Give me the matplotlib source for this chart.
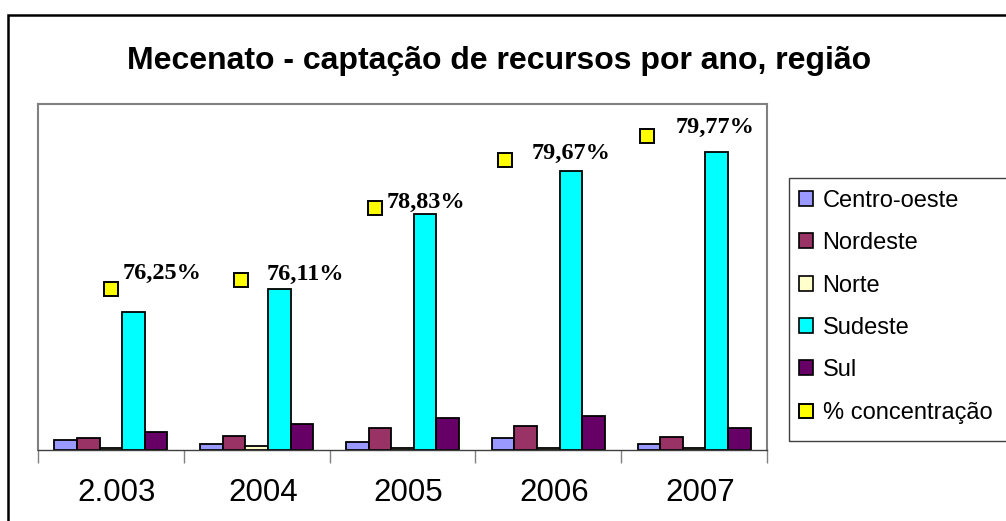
import matplotlib.pyplot as plt
from matplotlib.patches import Patch, Rectangle
from matplotlib.lines import Line2D
import matplotlib.transforms as mtransforms
import numpy as np

plt.rcParams['font.family'] = ['Liberation Sans', 'DejaVu Sans']

# data (heights, arbitrary units)
anos = ['2.003', '2004', '2005', '2006', '2007']
regioes = ['Centro-oeste', 'Nordeste', 'Norte', 'Sudeste', 'Sul']
centro_oeste = [10, 6, 8, 12, 6]
nordeste = [12, 14, 22, 24, 13]
norte = [2, 4, 2, 2, 2]
sudeste = [138, 161, 236, 279, 298]
sul = [18, 26, 32, 34, 22]
series = [centro_oeste, nordeste, norte, sudeste, sul]

concentracao = ['76,25%', '76,11%', '78,83%', '79,67%', '79,77%']
conc_nivel = [161, 170, 242, 290, 314]
conc_x = [0.50, 1.39, 2.31, 3.20, 4.18]

cores = ['#9999FF', '#993366', '#FFFFCC', '#00FFFF', '#660066']
label_offsets = [(12, 16), (26, 6), (12, 6), (27, 7), (28, 9)]

W, H = 1006, 521
fig = plt.figure(figsize=(W / 100, H / 100), dpi=100)

# outer chart border
fig.add_artist(Rectangle((8 / W, -0.1), 1.2, (1 - 15 / H) + 0.1,
                         transform=fig.transFigure, fill=False,
                         edgecolor='black', linewidth=1.8, clip_on=False))

ax = fig.add_axes([38 / W, 1 - 450 / H, (767 - 38) / W, (450 - 104) / H])

bw = 0.155
x = np.arange(len(anos))
for k, (vals, cor) in enumerate(zip(series, cores)):
    ax.bar(x + 0.5 + (k - 2) * bw, vals, width=bw, color=cor,
           edgecolor='black', linewidth=1.3, zorder=2)

ax.plot(conc_x, conc_nivel, 's', ms=10, mfc='#FFFF00', mec='black',
        mew=1.4, ls='none', zorder=3)
for xi, yi, txt, (dx, dy) in zip(conc_x, conc_nivel, concentracao, label_offsets):
    ax.annotate(txt, (xi, yi), xytext=(dx, dy), textcoords='offset pixels',
                ha='left', va='center', fontsize=17.5, fontweight='bold',
                family='Liberation Serif')

ax.set_xlim(0, len(anos))
ax.set_ylim(0, 346)
ax.set_yticks([])
ax.set_xticks(np.arange(len(anos) + 1))
ax.set_xticklabels([])
ax.set_xticks(x + 0.5, minor=True)
ax.set_xticklabels(anos, minor=True, fontsize=22.5)
ax.tick_params(axis='x', which='major', length=9, direction='out',
               color='#808080', width=1)
ax.tick_params(axis='x', which='minor', length=0, pad=20)
for lbl in ax.get_xticklabels(minor=True):
    lbl.set_transform(lbl.get_transform() +
                      mtransforms.ScaledTranslation(6 / 100, 0, fig.dpi_scale_trans))

for s in ['left', 'top', 'right']:
    ax.spines[s].set_color('#808080')
    ax.spines[s].set_linewidth(1.5)
ax.spines['bottom'].set_color('#404040')
ax.spines['bottom'].set_linewidth(1)

fig.text(499 / W, 1 - 69 / H, 'Mecenato - captação de recursos por ano, região',
         ha='center', va='baseline', fontsize=23, fontweight='bold')

# legend
fig.add_artist(Rectangle((789 / W, 1 - 441 / H), 0.3, (441 - 178) / H,
                         transform=fig.transFigure, fill=False,
                         edgecolor='#404040', linewidth=1, clip_on=False))
handles = [Patch(facecolor=c, edgecolor='black', linewidth=1.2) for c in cores]
handles.append(Line2D([], [], marker='s', ms=10, mfc='#FFFF00', mec='black',
                      mew=1.4, ls='none'))
fig.legend(handles, regioes + ['% concentração'], loc='upper left',
           bbox_to_anchor=(799 / W, 1 - 190 / H), frameon=False, fontsize=17,
           handlelength=0.6, handleheight=0.6, handletextpad=0.4,
           labelspacing=0.86, borderpad=0, borderaxespad=0)

fig.savefig('out.png', dpi=100)
